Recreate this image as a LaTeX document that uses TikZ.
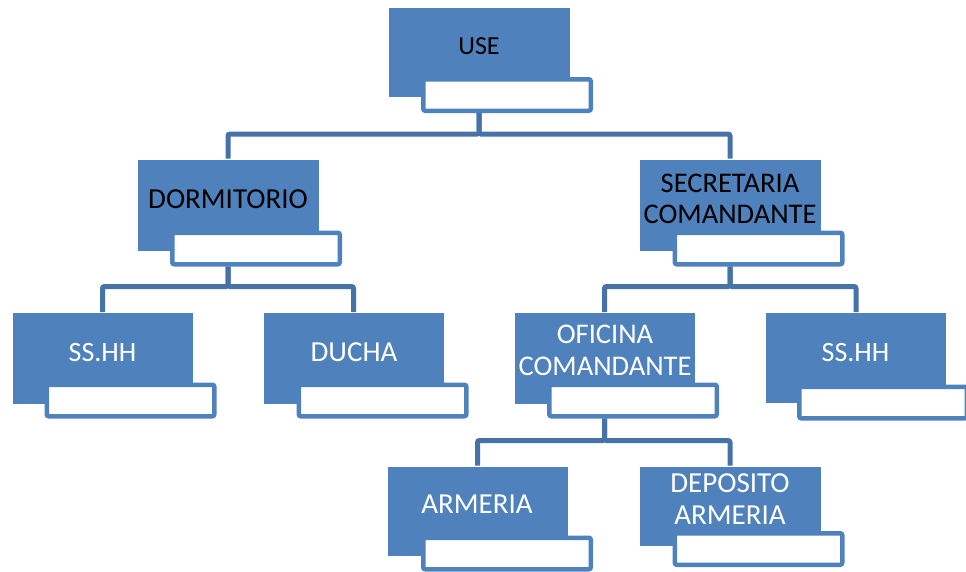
\documentclass[tikz,border=0pt]{standalone}
\usepackage{fontspec}
\setmainfont{Carlito}
\definecolor{boxblue}{HTML}{4F81BD}
\definecolor{connblue}{HTML}{4672A8}
\tikzset{
  bluebox/.style={fill=boxblue, draw=white, line width=0.6pt, minimum width=182pt, minimum height=91pt, inner sep=0pt},
  wbox/.style={fill=white, draw=boxblue, line width=4.5pt, rounded corners=2pt, minimum width=167.5pt, minimum height=31.5pt, inner sep=0pt},
  conn/.style={draw=connblue, line width=5pt, rounded corners=2pt},
  lbl/.style={inner sep=0pt, align=center}
}
\begin{document}
\begin{tikzpicture}[x=1pt,y=-1pt]
\useasboundingbox (0,0) rectangle (966,571);
\clip (0,0) rectangle (966,571);
% blue boxes
\node[bluebox, minimum height=90pt] (use) at (479,52) {};
\node[bluebox, minimum height=92pt] (dorm) at (228,205) {};
\node[bluebox, minimum height=92pt] (secr) at (730,205) {};
\node[bluebox, minimum width=181pt, minimum height=92pt] (ss1) at (102.5,358.5) {};
\node[bluebox, minimum width=181pt, minimum height=92pt] (duch) at (353.5,358.5) {};
\node[bluebox, minimum width=181pt, minimum height=92pt] (ofic) at (604.5,358.5) {};
\node[bluebox, minimum width=181pt, minimum height=91pt] (ss2) at (856,358) {};
\node[bluebox, minimum width=181pt, minimum height=90pt] (arm) at (477.5,511) {};
\node[bluebox, minimum height=80pt] (depo) at (730,506) {};
% white boxes
\node[wbox] (useb) at (507,95) {};
\node[wbox] (dormb) at (256,248.5) {};
\node[wbox] (secrb) at (758.5,248.5) {};
\node[wbox] (ss1b) at (130.5,400.5) {};
\node[wbox] (duchb) at (382.5,400.5) {};
\node[wbox] (oficb) at (633,400.5) {};
\node[wbox] (ss2b) at (883,402.5) {};
\node[wbox] (armb) at (507,553.5) {};
\node[wbox] (depob) at (758.5,549) {};
% labels
\node[lbl, text=black, font=\fontsize{26}{30}\selectfont] (tuse) at (479,46) {USE};
\node[lbl, text=black, font=\fontsize{29}{33}\selectfont] (tdorm) at (228,199) {DORMITORIO};
\node[lbl, text=black, font=\fontsize{28.5}{31}\selectfont] (tsecr) at (730,199) {SECRETARIA\\COMANDANTE};
\node[lbl, text=white, font=\fontsize{28}{32}\selectfont] (tss1) at (102.5,352.5) {SS.HH};
\node[lbl, text=white, font=\fontsize{29}{32}\selectfont] (tduch) at (354,352.5) {DUCHA};
\node[lbl, text=white, font=\fontsize{28.5}{32.5}\selectfont] (tofic) at (605,350.5) {OFICINA\\COMANDANTE};
\node[lbl, text=white, font=\fontsize{28}{32}\selectfont] (tss2) at (855.5,352.5) {SS.HH};
\node[lbl, text=white, font=\fontsize{29}{32}\selectfont] (tarm) at (477,504) {ARMERIA};
\node[lbl, text=white, font=\fontsize{29}{32.5}\selectfont] (tdepo) at (730,499) {DEPOSITO\\ARMERIA};
% connectors
\draw[conn] (useb.south -| use.center) -- ++(0,21) -| (dorm.north);
\draw[conn] (useb.south -| use.center) -- ++(0,21) -| (secr.north);
\draw[conn] (dormb.south -| dorm.center) -- ++(0,20) -| (ss1.north);
\draw[conn] (dormb.south -| dorm.center) -- ++(0,20) -| (duch.north);
\draw[conn] (secrb.south -| secr.center) -- ++(0,20) -| (ofic.north);
\draw[conn] (secrb.south -| secr.center) -- ++(0,20) -| (ss2.north);
\draw[conn] (oficb.south -| ofic.center) -- ++(0,22) -| (arm.north);
\draw[conn] (oficb.south -| ofic.center) -- ++(0,22) -| (depo.north);
\end{tikzpicture}
\end{document}
